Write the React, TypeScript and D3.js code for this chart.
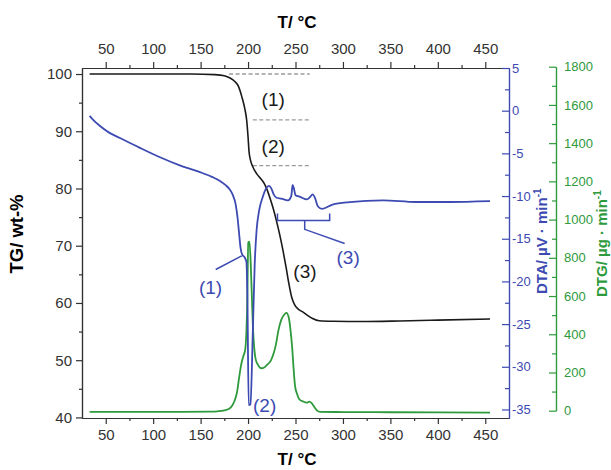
import * as React from "react";
import * as d3 from "d3";

// TG curve: temperature (°C) and mass (wt-%)
const tgTemp = [33, 60, 100, 140, 165, 175, 181, 186, 190, 193.5, 196.5, 198.5, 200, 201, 202.5, 205, 209, 213, 217, 220, 223, 226, 230, 233, 237, 240, 243, 246, 249, 253, 258, 263, 268, 275, 290, 320, 360, 400, 455];
const tgValue = [100, 100, 100, 100, 99.9, 99.7, 99.3, 98.7, 97.8, 96, 94, 92, 89, 86.5, 85, 83.8, 82.6, 81.8, 80.9, 79.8, 78.4, 76.8, 74.3, 72.2, 69, 66.3, 63.4, 61, 59.7, 58.9, 58.4, 57.8, 57.3, 56.9, 56.8, 56.75, 56.85, 57.0, 57.2];

// DTA curve (µV/min)
const dtaTemp = [33, 37, 44, 54, 65, 85, 106, 128, 148, 162, 170, 176, 180.5, 184, 187, 189, 190.5, 192, 194, 196.5, 198.3, 199.3, 200.7, 202.5, 205, 207, 209, 211.5, 215.5, 219, 222, 224.5, 227, 230, 235, 242, 245.5, 247, 248.5, 250, 255, 262, 265.5, 268, 270.5, 273.5, 278, 289, 307, 342, 377, 412, 455];
const dtaValue = [-0.6, -1.1, -1.8, -2.6, -3.2, -4.3, -5.4, -6.4, -7.15, -7.75, -8.2, -8.7, -9.2, -9.9, -11, -12.6, -14.3, -16, -16.9, -17.2, -17.7, -21.8, -34.5, -34.4, -26, -18, -14, -11.8, -10.1, -9.1, -8.8, -9.1, -9.8, -10.2, -10.3, -10.5, -10, -8.7, -9.2, -9.9, -10.1, -10.4, -10.1, -9.8, -10.2, -11.2, -11.5, -11, -10.7, -10.5, -10.7, -10.7, -10.6];

// DTG curve (µg/min)
const dtgTemp = [33, 80, 130, 160, 168, 175, 180, 183, 186, 188.5, 190.5, 192.5, 195, 197, 198.3, 199.3, 200.2, 201.5, 202.8, 204, 205.2, 206.5, 208, 210.5, 214, 217, 220, 224, 227, 229.5, 232, 235, 238, 240.5, 243, 245, 246.5, 248, 249.5, 251.5, 254, 258, 262, 264.5, 267, 270, 272.5, 276, 300, 350, 400, 455];
const dtgValue = [-6, -6, -6, -5, -3, 2, 10, 25, 55, 100, 170, 235, 285, 320, 420, 600, 880, 885, 770, 600, 430, 330, 270, 240, 222, 226, 240, 262, 300, 350, 420, 475, 502, 512, 485, 410, 330, 220, 130, 90, 60, 48, 42, 47, 40, 18, 2, -6, -7, -8, -9, -10];

const tempTicks = [50, 100, 150, 200, 250, 300, 350, 400, 450];
const tempMinor = [75, 125, 175, 225, 275, 325, 375, 425];
const tgTicks = [40, 50, 60, 70, 80, 90, 100];
const tgMinor = [45, 55, 65, 75, 85, 95];
const dtaTicks = [5, 0, -5, -10, -15, -20, -25, -30, -35];
const dtaMinor = [2.5, -2.5, -7.5, -12.5, -17.5, -22.5, -27.5, -32.5];
const dtgTicks = [0, 200, 400, 600, 800, 1000, 1200, 1400, 1600, 1800];
const dtgMinor = [100, 300, 500, 700, 900, 1100, 1300, 1500, 1700];

const BLUE = "#3c4ab2";
const GREEN = "#2e9a3c";
const FONT = "'Liberation Sans', Arial, sans-serif";

// plain labels: no thousands separator, ascii hyphen for minus
const plain = (d: any) => String(d);

function drawChart(svgEl: SVGSVGElement) {
  const svg = d3.select(svgEl);
  svg.selectAll("*").remove();

  const x = d3.scaleLinear().domain([25, 475]).range([82, 509]);
  const yTG = d3.scaleLinear().domain([39.9, 101.05]).range([418, 68]);
  const yDTA = d3.scaleLinear().domain([-36, 5]).range([418, 68]);
  const yDTG = d3.scaleLinear().domain([0, 1800]).range([410.7, 66.7]);

  const styleAxis = (g: any, color: string, size: number, textColor: string) => {
    g.selectAll("path, line").attr("stroke", color).attr("stroke-width", 1.2);
    g.selectAll("text").attr("fill", textColor).attr("font-size", size).attr("font-family", FONT);
  };

  // left TG axis
  const left = svg.append("g").attr("transform", "translate(82,0)");
  left.call(d3.axisLeft(yTG).tickValues(tgTicks).tickFormat(plain).tickSize(6).tickSizeOuter(0).tickPadding(4));
  left.append("g").call(d3.axisLeft(yTG).tickValues(tgMinor).tickSize(3).tickSizeOuter(0).tickFormat(() => ""));
  styleAxis(left, "#333", 15, "#333");

  // top and bottom temperature axes
  const top = svg.append("g").attr("transform", "translate(0,68)");
  top.call(d3.axisTop(x).tickValues(tempTicks).tickFormat(plain).tickSize(6).tickSizeOuter(0).tickPadding(8));
  top.append("g").call(d3.axisTop(x).tickValues(tempMinor).tickSize(3).tickSizeOuter(0).tickFormat(() => ""));
  styleAxis(top, "#333", 15, "#333");

  const bottom = svg.append("g").attr("transform", "translate(0,418)");
  bottom.call(d3.axisBottom(x).tickValues(tempTicks).tickFormat(plain).tickSize(6).tickSizeOuter(0).tickPadding(5));
  bottom.append("g").call(d3.axisBottom(x).tickValues(tempMinor).tickSize(3).tickSizeOuter(0).tickFormat(() => ""));
  styleAxis(bottom, "#333", 15, "#333");

  // right DTA axis (ticks inward)
  const right = svg.append("g").attr("transform", "translate(509,0)");
  right.call(d3.axisRight(yDTA).tickValues(dtaTicks).tickFormat(plain).tickSizeInner(-7).tickSizeOuter(0).tickPadding(3));
  right.append("g").call(d3.axisRight(yDTA).tickValues(dtaMinor).tickSizeInner(-4).tickSizeOuter(0).tickFormat(() => ""));
  styleAxis(right, BLUE, 13, BLUE);

  // outer DTG axis
  const far = svg.append("g").attr("transform", "translate(556,0)");
  far.call(d3.axisRight(yDTG).tickValues(dtgTicks).tickFormat(plain).tickSizeInner(-7).tickSizeOuter(0).tickPadding(8));
  far.append("g").call(d3.axisRight(yDTG).tickValues(dtgMinor).tickSizeInner(-4).tickSizeOuter(0).tickFormat(() => ""));
  styleAxis(far, GREEN, 13, GREEN);

  // axis titles
  const title = (sel: any, size: number) => sel.attr("font-family", FONT).attr("font-weight", "bold").attr("font-size", size);
  svg.append("text").call(title, 17).attr("x", 297).attr("y", 28).attr("text-anchor", "middle").text("T/ °C");
  svg.append("text").call(title, 17).attr("x", 297).attr("y", 465).attr("text-anchor", "middle").text("T/ °C");
  svg.append("text").call(title, 18.5).attr("transform", "translate(23,234) rotate(-90)").attr("text-anchor", "middle").text("TG/ wt-%");

  const dtaTitle = svg.append("text").call(title, 15).attr("fill", BLUE)
    .attr("transform", "translate(547,294) rotate(-90)").attr("text-anchor", "start");
  dtaTitle.append("tspan").text("DTA/ µV · min");
  dtaTitle.append("tspan").attr("font-size", 10).attr("dy", -6).text("-1");

  const dtgTitle = svg.append("text").call(title, 15).attr("fill", GREEN)
    .attr("transform", "translate(607,297) rotate(-90)").attr("text-anchor", "start");
  dtgTitle.append("tspan").text("DTG/ µg · min");
  dtgTitle.append("tspan").attr("font-size", 10).attr("dy", -6).text("-1");

  // dashed step markers
  const dashes = [
    { from: 180, to: 265, level: 100 },
    { from: 205, to: 265, level: 92 },
    { from: 205, to: 265, level: 84 },
  ];
  svg.selectAll(".dash").data(dashes).enter().append("line")
    .attr("x1", (d) => x(d.from)).attr("x2", (d) => x(d.to))
    .attr("y1", (d) => yTG(d.level)).attr("y2", (d) => yTG(d.level))
    .attr("stroke", "#9a9a9a").attr("stroke-width", 1.3).attr("stroke-dasharray", "4,2.5");

  // curves
  const tg = tgTemp.map((t, i) => [t, tgValue[i]] as [number, number]);
  const dta = dtaTemp.map((t, i) => [t, dtaValue[i]] as [number, number]);
  const dtg = dtgTemp.map((t, i) => [t, dtgValue[i]] as [number, number]);

  svg.append("path").datum(dtg)
    .attr("d", d3.line<[number, number]>().x((d) => x(d[0])).y((d) => yDTG(d[1])).curve(d3.curveMonotoneX))
    .attr("fill", "none").attr("stroke", GREEN).attr("stroke-width", 1.8);

  svg.append("path").datum(tg)
    .attr("d", d3.line<[number, number]>().x((d) => x(d[0])).y((d) => yTG(d[1])).curve(d3.curveMonotoneX))
    .attr("fill", "none").attr("stroke", "#1a1a1a").attr("stroke-width", 1.6);

  svg.append("path").datum(dta)
    .attr("d", d3.line<[number, number]>().x((d) => x(d[0])).y((d) => yDTA(d[1])).curve(d3.curveMonotoneX))
    .attr("fill", "none").attr("stroke", BLUE).attr("stroke-width", 1.8);

  // DTA annotations: leader for (1), bracket for (3)
  const dtaLine = d3.line<[number, number]>().x((d) => x(d[0])).y((d) => yDTA(d[1]));
  const leaders: [number, number][][] = [
    [[165.9, -18.6], [193.3, -17.0]],
    [[231, -12.05], [231, -12.87], [286, -12.87], [286, -12.05]],
    [[259.7, -12.87], [259.7, -13.9], [301.8, -15.56]],
  ];
  svg.selectAll(".leader").data(leaders).enter().append("path")
    .attr("d", (d) => dtaLine(d)).attr("fill", "none").attr("stroke", BLUE).attr("stroke-width", 1.5);

  const tgLabels = [
    { t: 226.5, v: 95.6, text: "(1)" },
    { t: 226.5, v: 87.4, text: "(2)" },
    { t: 260, v: 65.6, text: "(3)" },
  ];
  svg.selectAll(".tglabel").data(tgLabels).enter().append("text")
    .attr("x", (d) => x(d.t)).attr("y", (d) => yTG(d.v)).attr("dy", "0.35em")
    .attr("text-anchor", "middle").attr("font-family", FONT).attr("font-size", 19).attr("fill", "#1a1a1a")
    .text((d) => d.text);

  const dtaLabels = [
    { t: 160.5, v: -20.7, text: "(1)" },
    { t: 217.5, v: -34.5, text: "(2)" },
    { t: 305.5, v: -17.2, text: "(3)" },
  ];
  svg.selectAll(".dtalabel").data(dtaLabels).enter().append("text")
    .attr("x", (d) => x(d.t)).attr("y", (d) => yDTA(d.v)).attr("dy", "0.35em")
    .attr("text-anchor", "middle").attr("font-family", FONT).attr("font-size", 19).attr("fill", BLUE)
    .text((d) => d.text);
}

const App = () => {
  const svgRef = React.useRef<SVGSVGElement>(null);

  React.useEffect(() => {
    if (svgRef.current) drawChart(svgRef.current);
  }, []);

  return (
    <svg
      ref={svgRef}
      width={611}
      height={470}
      style={{ position: "absolute", left: 0, top: 0, background: "#fff" }}
    />
  );
};

export default App;
